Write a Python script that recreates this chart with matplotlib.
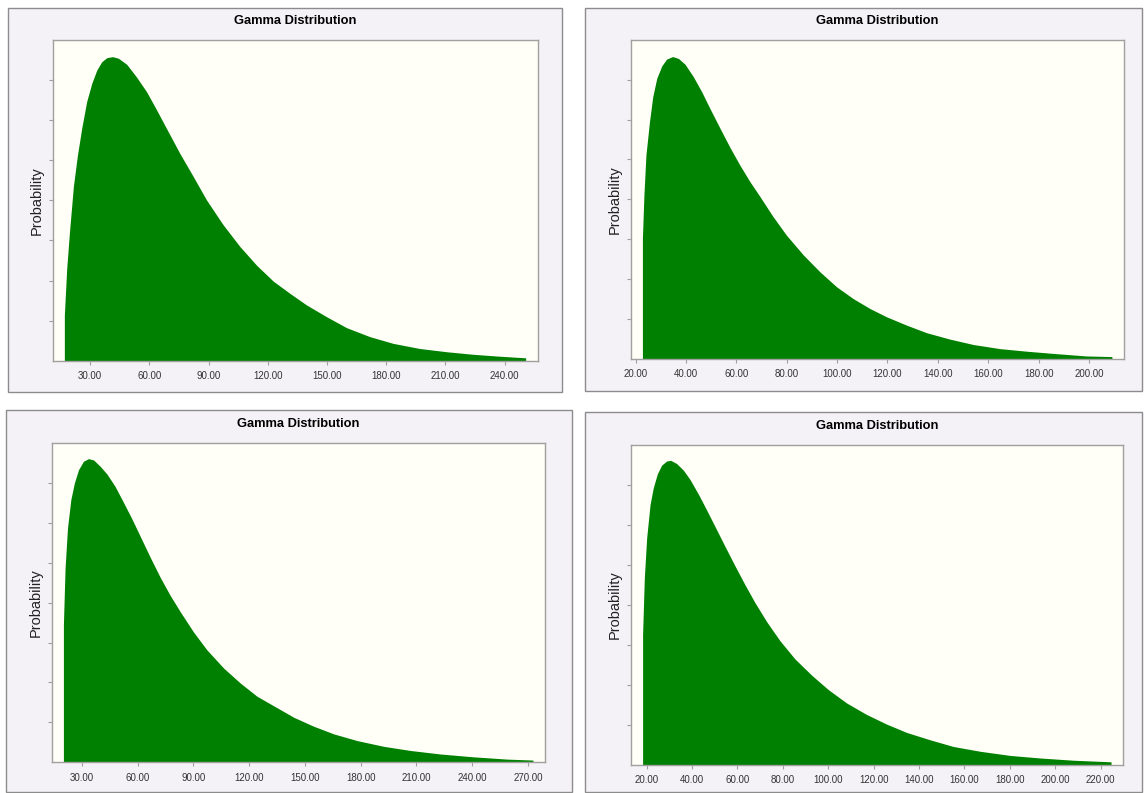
import numpy as np
import matplotlib
matplotlib.use('Agg')
import matplotlib.pyplot as plt
from matplotlib.patches import Rectangle

W, H = 1145, 793

# curve heights are read as a fraction of the plot height (no y labels in the source)
x1 = [17.0, 18.2, 19.6, 21.6, 23.6, 25.8, 28.3, 30.9, 33.4, 35.9, 38.5, 41.5, 44.4,
      48.6, 53.6, 58.7, 63.7, 69.6, 75.6, 82.3, 89.0, 97.5, 105.9, 114.3, 122.8,
      131.2, 139.6, 149.8, 159.9, 171.7, 183.5, 197.0, 210.5, 223.9, 237.4, 250.6]
y1 = [0.142, 0.288, 0.402, 0.545, 0.640, 0.725, 0.808, 0.865, 0.906, 0.932, 0.945, 0.948, 0.943,
      0.924, 0.884, 0.838, 0.782, 0.714, 0.645, 0.574, 0.501, 0.423, 0.356, 0.298, 0.248,
      0.210, 0.174, 0.137, 0.103, 0.075, 0.054, 0.038, 0.028, 0.020, 0.014, 0.009]

x2 = [22.7, 23.3, 24.1, 25.5, 26.8, 28.4, 30.4, 32.3, 34.7, 37.0, 39.6, 42.9, 46.2,
      49.5, 53.5, 57.5, 61.4, 65.4, 69.4, 74.6, 79.9, 86.6, 93.2, 99.8, 106.4, 113.0,
      119.6, 127.5, 135.5, 144.7, 154.0, 164.6, 175.1, 185.7, 198.9, 209.1]
y2 = [0.377, 0.513, 0.639, 0.743, 0.822, 0.880, 0.919, 0.940, 0.948, 0.942, 0.924, 0.885, 0.838,
      0.785, 0.723, 0.662, 0.607, 0.555, 0.508, 0.445, 0.387, 0.325, 0.272, 0.225, 0.188, 0.157,
      0.131, 0.105, 0.081, 0.061, 0.044, 0.031, 0.023, 0.016, 0.008, 0.006]

x3 = [20.1, 21.0, 22.3, 24.1, 26.0, 28.2, 30.9, 33.6, 36.3, 39.9, 43.5, 47.9, 52.4,
      56.9, 61.4, 66.8, 72.2, 77.6, 82.9, 90.1, 97.3, 106.3, 115.3, 124.2, 133.2,
      144.0, 154.7, 165.5, 178.1, 192.4, 206.8, 222.9, 240.9, 258.8, 272.7]
y3 = [0.431, 0.609, 0.734, 0.823, 0.875, 0.916, 0.943, 0.951, 0.947, 0.927, 0.903, 0.864, 0.814,
      0.763, 0.708, 0.642, 0.579, 0.522, 0.472, 0.408, 0.352, 0.295, 0.248, 0.207, 0.177,
      0.141, 0.113, 0.089, 0.068, 0.050, 0.037, 0.026, 0.017, 0.010, 0.007]

x4 = [18.2, 18.97, 20.0, 21.5, 22.9, 24.7, 26.6, 28.8, 30.6, 33.2, 36.2, 39.1, 42.8,
      46.4, 50.1, 54.5, 58.9, 63.3, 67.7, 72.9, 78.7, 85.3, 92.7, 100.0, 108.1, 116.9,
      125.7, 134.5, 144.8, 155.1, 166.9, 180.1, 193.3, 208.0, 224.6]
y4 = [0.407, 0.585, 0.710, 0.814, 0.866, 0.910, 0.937, 0.950, 0.952, 0.942, 0.921, 0.892, 0.846,
      0.797, 0.745, 0.683, 0.622, 0.563, 0.507, 0.447, 0.388, 0.331, 0.280, 0.235, 0.193, 0.157,
      0.127, 0.101, 0.078, 0.057, 0.042, 0.029, 0.021, 0.014, 0.009]

xticks_a = [30, 60, 90, 120, 150, 180, 210, 240]
xticks_b = [20, 40, 60, 80, 100, 120, 140, 160, 180, 200]
xticks_c = [30, 60, 90, 120, 150, 180, 210, 240, 270]
xticks_d = [20, 40, 60, 80, 100, 120, 140, 160, 180, 200, 220]

title = 'Gamma Distribution'
ylabel = 'Probability'

# (outer frame l, t, r, b), (plot l, t, r, b), xlim, data, ticks   -- pixel layout
panels = [
    ((8, 8, 562, 392), (52.7, 40, 538.3, 360.7), (11.1, 257.0), x1, y1, xticks_a),
    ((585, 8, 1142, 391), (630.7, 40, 1124, 358.5), (18.05, 213.9), x2, y2, xticks_b),
    ((6, 410, 572, 792), (51.7, 443, 544.5, 762.3), (13.8, 278.9), x3, y3, xticks_c),
    ((585, 412, 1142, 792), (630.7, 445, 1123.3, 764.7), (12.96, 230.0), x4, y4, xticks_d),
]

bg_outer = '#f5f2f7'
bg_plot = '#fffff7'
edge = '#a0a0a0'
green = '#008000'
text_font = ['Liberation Sans', 'DejaVu Sans']

fig = plt.figure(figsize=(W / 100, H / 100), dpi=100)
fig.patch.set_facecolor('white')

def fx(px):
    return px / W

def fy(py):
    return 1 - py / H

for outer, inner, xlim, xs, ys, ticks in panels:
    ol, ot, orr, ob = outer
    fig.patches.append(Rectangle((fx(ol), fy(ob)), fx(orr - ol), (ob - ot) / H,
                                 transform=fig.transFigure, facecolor=bg_outer,
                                 edgecolor='#8c8c8c', lw=1.0, zorder=-5))
    l, t, r, b = inner
    ax = fig.add_axes([fx(l), fy(b), fx(r - l), (b - t) / H])
    ax.set_zorder(2)
    ax.set_facecolor(bg_plot)
    ax.fill_between(xs, 0, ys, color=green, lw=0)
    ax.set_xlim(*xlim)
    ax.set_ylim(0, 1)
    ax.set_xticks(ticks)
    ax.set_xticklabels(['%.2f' % v for v in ticks], fontsize=7,
                       family=text_font, color='#333333')
    ax.set_yticks([i / 8 for i in range(1, 8)])
    ax.set_yticklabels([])
    ax.tick_params(axis='both', color=edge, length=3, width=0.8, pad=4.5)
    for s in ax.spines.values():
        s.set_color(edge)
        s.set_linewidth(1.0)
    fig.text(fx((l + r) / 2), fy(t - 19), title, ha='center', va='center',
             fontsize=9.3, fontweight='bold', family=text_font, color='black')
    fig.text(fx(l - 16), fy((t + b) / 2), ylabel, ha='center', va='center',
             rotation=90, fontsize=10.5, family=text_font, color='#222222')

fig.savefig('out.png', dpi=100, facecolor=fig.get_facecolor())
